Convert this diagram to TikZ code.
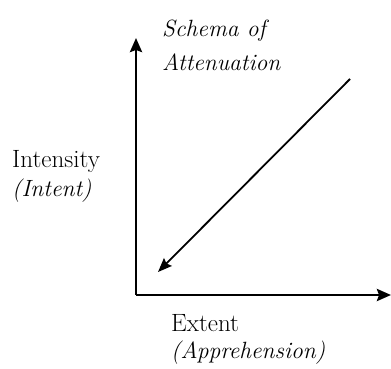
\documentclass[tikz,border=0pt]{standalone}
\usetikzlibrary{arrows.meta}
\tikzset{
  axis/.style={-{Stealth[length=14pt,width=12pt,inset=2pt]}, line width=2.8pt, draw=black},
  arrow/.style={-{Stealth[length=14pt,width=11pt,inset=2pt]}, line width=1.8pt, draw=black},
  label/.style={inner sep=0pt, align=left, anchor=base west},
}

\begin{document}
\begin{tikzpicture}[x=1pt, y=1pt]
  \useasboundingbox (0,0) rectangle (391,369);

  \coordinate (origin) at (136,74);
  \coordinate (ytop) at (136,331);
  \coordinate (xend) at (391,74);
  \coordinate (dstart) at (350,290);
  \coordinate (dend) at (158,97);

  % labels sit on the baseline of their last line
  \node[label, font=\fontsize{23.5}{34}\selectfont\itshape] (schema) at (162,298) {Schema of\\Attenuation};
  \node[label, font=\fontsize{25}{29}\selectfont] (intensity) at (12,172) {Intensity\\{\fontsize{23.5}{29}\selectfont\itshape (Intent)}};
  \node[label, font=\fontsize{25}{27}\selectfont] (extent) at (171,10) {Extent\\{\fontsize{23.5}{27}\selectfont\itshape (Apprehension)}};

  \draw[axis] (origin) -- (ytop);
  \draw[axis] (origin) -- (xend);
  \draw[arrow] (dstart) -- (dend);
\end{tikzpicture}
\end{document}
